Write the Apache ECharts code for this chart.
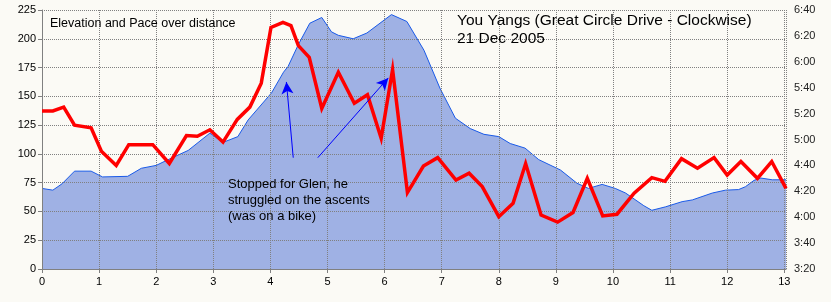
<!DOCTYPE html>
<html><head><meta charset="utf-8">
<script src="https://cdn.jsdelivr.net/npm/echarts@6/dist/echarts.min.js"></script>
<style>html,body{margin:0;padding:0;background:#fbfaf5}#c{width:831px;height:302px}</style>
</head><body><div id="c"></div>
<script>
// Elevation (m) over distance (km)
const elevDist = [0,0.19,0.35,0.57,0.86,1.06,1.5,1.74,2.0,2.23,2.56,2.94,3.17,3.43,3.61,4.02,4.23,4.31,4.49,4.69,4.9,5.07,5.19,5.45,5.69,6.12,6.39,6.69,6.97,7.24,7.5,7.74,8.0,8.2,8.46,8.7,9.08,9.37,9.57,9.81,10.04,10.22,10.54,10.68,10.92,11.21,11.39,11.74,11.97,12.2,12.32,12.47,12.59,12.79,13.03];
const elevVals = [70,68.5,74,85,85,80,80.5,87.5,90,95.5,103,118,110,115,129.5,153,171,176,195,213.5,218.5,206,203,200,205,221,215,190,157,131,122,117,115,109,105,95,86,74.5,70,73.5,70,66,55,51,54,58.5,60,66,68.5,69,71.5,77,79,77.5,77.5];
// Pace (seconds per km) over distance (km)
const paceDist = [0,0.19,0.38,0.57,0.86,1.04,1.3,1.52,1.94,2.23,2.53,2.72,2.94,3.17,3.42,3.64,3.84,4.01,4.22,4.36,4.49,4.68,4.9,5.19,5.47,5.7,5.94,6.14,6.4,6.68,6.93,7.25,7.48,7.71,8.0,8.25,8.47,8.74,9.03,9.3,9.55,9.82,10.07,10.37,10.68,10.91,11.2,11.48,11.77,12.0,12.24,12.53,12.78,13.03];
const paceSecs = [322,322,325,311,309,291,280,296,296,281.5,303,302.5,307.5,298,315.5,325,343.5,386.5,390.5,388,372.5,363.5,324,352,328,334.5,301,354,259,279.5,286,268.7,274,263.6,240.4,250.7,281.4,241.7,236.2,243.6,270,241,242.3,258.5,270.6,267.7,285.2,277.8,286,272.6,283,270,283,262.3];
// Axis ticks
const distTicks = [0,1,2,3,4,5,6,7,8,9,10,11,12,13];
const elevTicks = [0,25,50,75,100,125,150,175,200,225];
const paceTicks = [200,220,240,260,280,300,320,340,360,380,400];
// Texts
const chartTitle = 'Elevation and Pace over distance';
const routeTitle = 'You Yangs (Great Circle Drive - Clockwise)';
const routeDate = '21 Dec 2005';
const noteText = 'Stopped for Glen, he\nstruggled on the ascents\n(was on a bike)';
// Annotation arrows in data coordinates [km, elevation]
const arrows = [[[4.40,96.7],[4.28,162.5]],[[4.83,96.7],[6.065,166]]];

const FONT = '"Liberation Sans", Arial, sans-serif';
const fmtPace = s => Math.floor(s/60) + ':' + String(Math.round(s%60)).padStart(2,'0');

const chart = echarts.init(document.getElementById('c'), null, {renderer:'canvas'});
chart.setOption({
  animation: false,
  backgroundColor: '#fbfaf5',
  grid: {left: 42, right: 45, top: 10, bottom: 33, containLabel: false},
  xAxis: {
    type: 'value', min: distTicks[0], max: 13.03, interval: 1, z: 3,
    axisLine: {show: true, onZero: false, lineStyle: {color: '#808080', width: 1}},
    axisTick: {show: true, length: 4, lineStyle: {color: '#808080'}},
    axisLabel: {color: '#000', fontFamily: FONT, fontSize: 11, margin: 7, showMaxLabel: false,
      formatter: v => (Number.isInteger(v) ? String(v) : '')},
    splitLine: {show: true, lineStyle: {color: '#808080', type: 'dotted', width: 1}}
  },
  yAxis: [{
    type: 'value', min: elevTicks[0], max: elevTicks[elevTicks.length-1], interval: 25, z: 3,
    axisLine: {show: true, lineStyle: {color: '#808080', width: 1}},
    axisTick: {show: true, length: 4, lineStyle: {color: '#808080'}},
    axisLabel: {color: '#000', fontFamily: FONT, fontSize: 11, margin: 6},
    splitLine: {show: true, lineStyle: {color: '#808080', type: 'dotted', width: 1}}
  },{
    type: 'value', min: paceTicks[0], max: paceTicks[paceTicks.length-1], interval: 20, position: 'right',
    axisLine: {show: false}, axisTick: {show: false}, splitLine: {show: false},
    axisLabel: {color: '#222', fontFamily: FONT, fontSize: 11, margin: 8, formatter: fmtPace}
  }],
  series: [{
    type: 'line', yAxisIndex: 0, z: 2, symbol: 'none',
    data: elevDist.map((d,i) => [d, elevVals[i]]),
    lineStyle: {color: '#1a5ae8', width: 1},
    areaStyle: {color: '#9fb1e4', opacity: 1},
    markLine: {
      silent: true, symbol: ['none','arrow'], symbolSize: [9, 12], z: 6,
      label: {show: false},
      lineStyle: {color: '#0000ff', width: 1, type: 'solid'},
      data: arrows.map(a => [{coord: a[0]}, {coord: a[1]}])
    }
  },{
    type: 'line', yAxisIndex: 1, z: 5, symbol: 'none',
    data: paceDist.map((d,i) => [d, paceSecs[i]]),
    lineStyle: {color: '#ff0000', width: 3.5, join: 'miter'}
  }],
  graphic: [
    {type: 'text', left: 50, top: 17, z: 10, style: {text: chartTitle, font: '12.5px ' + FONT, fill: '#000'}},
    {type: 'text', left: 457, top: 13, z: 10, style: {text: routeTitle, font: '15.5px ' + FONT, fill: '#000'}},
    {type: 'text', left: 457, top: 31, z: 10, style: {text: routeDate, font: '15.5px ' + FONT, fill: '#000'}},
    {type: 'text', left: 228, top: 176, z: 10, style: {text: noteText, font: '13px ' + FONT, lineHeight: 16, fill: '#000'}}
  ]
});
</script></body></html>
